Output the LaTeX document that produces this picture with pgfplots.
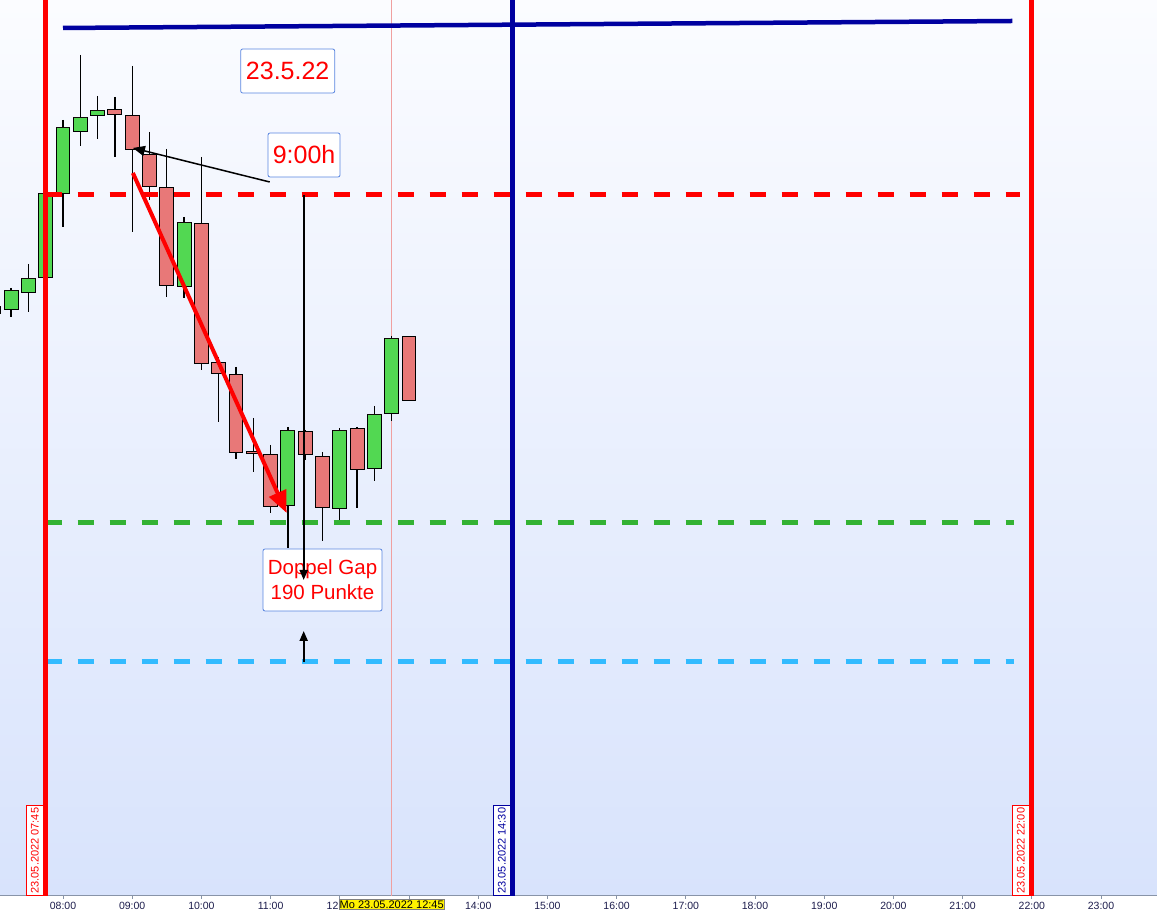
\documentclass[border=0pt]{standalone}
\usepackage{pgfplots}
\pgfplotsset{compat=1.18}
\usepackage{pgfplotstable}
\usepackage{fontspec}
\setmainfont{Liberation Sans}
\usetikzlibrary{arrows.meta}

\definecolor{bgtop}{HTML}{FBFCFF}
\definecolor{bgbot}{HTML}{D8E3FC}
\definecolor{navy}{HTML}{0000A0}
\definecolor{dgreen}{HTML}{33B233}
\definecolor{cyanl}{HTML}{33BBFF}
\definecolor{boxblue}{HTML}{5A86E0}
\definecolor{candG}{HTML}{52D852}
\definecolor{candR}{HTML}{E87878}
\definecolor{ticktext}{HTML}{1C1C4C}
\definecolor{axisgray}{HTML}{8894A8}
\definecolor{thinpink}{HTML}{F0A0A0}

% 15-minute candles: time (h), open, high, low, close
\pgfplotstableread{
t     o    h    l    c
7.00  596  608  592  603
7.25  600  622  593  619
7.50  617  646  598  631
7.75  632  716  632  716
8.00  716  790  683  782
8.25  778  855  764  792
8.50  794  814  771  799
8.75  800  813  753  795
9.00  794  844  678  760
9.25  755  778  710  723
9.50  722  761  613  624
9.75  623  693  612  687
10.00 686  753  540  546
10.25 547  553  488  536
10.50 535  543  451  457
10.75 458  492  438  456
11.00 455  465  397  403
11.25 404  483  362  479
11.50 478  480  450  455
11.75 453  458  369  402
12.00 401  482  388  479
12.25 481  483  402  440
12.50 441  504  429  495
12.75 496  574  489  571
13.00 573  573  509  509
}\candles

\begin{document}
\begin{tikzpicture}
\begin{axis}[
  scale only axis, width=1157pt, height=896pt,
  xmin=7.0896, xmax=23.809, ymin=14, ymax=910,
  axis x line*=bottom, axis y line=none,
  x axis line style={draw=axisgray, line width=1pt},
  xtick={8,...,23},
  xticklabels={08:00,09:00,10:00,11:00,12:00,,14:00,15:00,16:00,17:00,18:00,19:00,20:00,21:00,22:00,23:00},
  tick align=outside, major tick length=3pt,
  tick style={draw=axisgray, line width=0.8pt},
  xticklabel style={font=\fontsize{10.5}{12}\selectfont, text=ticktext, inner sep=0pt, anchor=north, yshift=-3pt},
  ytick=\empty,
  axis background/.style={top color=bgtop, bottom color=bgbot},
]
\coordinate (BL) at (rel axis cs:0,0);
\coordinate (TR) at (rel axis cs:1,1);
\coordinate (ylab) at (axis cs:12.75,14);

% thin cursor line
\draw[thinpink, line width=0.8pt] (axis cs:12.75,14) -- (axis cs:12.75,910);

% wicks
\addplot[draw=none, forget plot, error bars/.cd, y dir=both, y explicit, error mark=none,
  error bar style={draw=black, line width=1.3pt, solid}]
  table[x=t, y=h, y error plus expr=0, y error minus expr=\thisrow{h}-\thisrow{l}] {\candles};

% bodies (stacked: invisible base, green part, red part)
\addplot[ybar, stack plots=y, bar width=0.2, bar shift=0pt, draw=none, fill=none, forget plot]
  table[x=t, y expr={min(\thisrow{o},\thisrow{c})}] {\candles};
\addplot[ybar, stack plots=y, bar width=0.2, bar shift=0pt, draw=black, line width=1pt, fill=candG, forget plot]
  table[x=t, y expr={max(\thisrow{c}-\thisrow{o},0)}] {\candles};
\addplot[ybar, stack plots=y, bar width=0.2, bar shift=0pt, draw=black, line width=1pt, fill=candR, forget plot]
  table[x=t, y expr={max(\thisrow{o}-\thisrow{c},0)}] {\candles};

% horizontal levels
\draw[navy, line width=4.5pt] (axis cs:8.0,882) -- (axis cs:21.72,889);
\draw[red, line width=5pt, dash pattern=on 16pt off 16pt] (axis cs:7.75,715) -- (axis cs:21.83,715);
\draw[dgreen, line width=5pt, dash pattern=on 16pt off 16pt] (axis cs:7.75,387) -- (axis cs:21.74,387);
\draw[cyanl, line width=5pt, dash pattern=on 16pt off 16pt] (axis cs:7.75,248) -- (axis cs:21.74,248);

% vertical lines
\draw[red, line width=5pt] (axis cs:7.75,14) -- (axis cs:7.75,910);
\draw[navy, line width=5pt] (axis cs:14.5,14) -- (axis cs:14.5,910);
\draw[red, line width=5pt] (axis cs:22,14) -- (axis cs:22,910);

% date labels
\node[draw=red, fill=white, text=red, line width=0.8pt, rotate=90, anchor=south west,
  font=\fontsize{11}{12}\selectfont, minimum width=90pt, minimum height=17pt, inner sep=1pt]
  at (axis cs:7.72,14) {23.05.2022 07:45};
\node[draw=navy, fill=white, text=navy, line width=0.8pt, rotate=90, anchor=south west,
  font=\fontsize{11}{12}\selectfont, minimum width=90pt, minimum height=17pt, inner sep=1pt]
  at (axis cs:14.47,14) {23.05.2022 14:30};
\node[draw=red, fill=white, text=red, line width=0.8pt, rotate=90, anchor=south west,
  font=\fontsize{11}{12}\selectfont, minimum width=90pt, minimum height=17pt, inner sep=1pt]
  at (axis cs:21.97,14) {23.05.2022 22:00};

% annotations
\node[draw=boxblue, fill=white, rounded corners=2pt, text=red, line width=0.8pt,
  font=\fontsize{25}{30}\selectfont, minimum width=94pt, minimum height=44pt, inner sep=0pt]
  at (axis cs:11.247,839) {23.5.22};
\node[draw=boxblue, fill=white, rounded corners=2pt, text=red, line width=0.8pt,
  font=\fontsize{25}{30}\selectfont, minimum width=72pt, minimum height=44pt, inner sep=0pt]
  at (axis cs:11.483,755) {9:00h};
\draw[black, line width=1.5pt, -{Triangle[length=12pt,width=10pt]}] (axis cs:10.987,728) -- (axis cs:9.01,762);
\draw[red, line width=4pt, -{Triangle[length=22pt,width=18pt]}] (axis cs:9.01,737) -- (axis cs:11.232,397);

\node[draw=boxblue, fill=white, rounded corners=2pt, text=red, line width=0.8pt, align=center,
  font=\fontsize{20.5}{25}\selectfont, minimum width=119pt, minimum height=62pt, inner sep=0pt]
  at (axis cs:11.75,330) {Doppel Gap\\190 Punkte};
\draw[black, line width=2pt, -{Triangle[length=10pt,width=8pt]}] (axis cs:11.478,715) -- (axis cs:11.478,330);
\draw[black, line width=2pt, -{Triangle[length=10pt,width=8pt]}] (axis cs:11.478,248) -- (axis cs:11.478,279);
\end{axis}
\node[fill=yellow, draw=gray, anchor=north, font=\fontsize{11}{12}\selectfont, inner xsep=1pt, inner ysep=1pt, minimum width=104pt]
  at ([yshift=-3.5pt]ylab) {Mo 23.05.2022 12:45};
\pgfresetboundingbox
\path[use as bounding box] ([yshift=-14pt]BL) rectangle (TR);
\end{tikzpicture}
\end{document}
